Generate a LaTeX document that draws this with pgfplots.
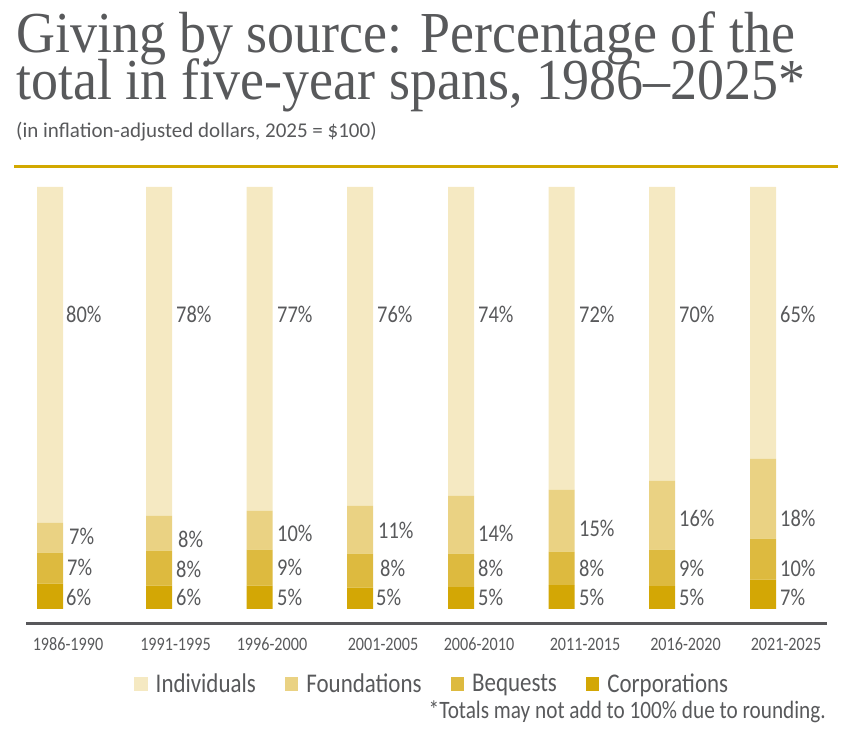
\documentclass[border=0pt]{standalone}
\usepackage{fontspec}
\usepackage{pgfplots}
\pgfplotsset{compat=1.18}
\setmainfont{Carlito}
\newfontfamily\cfont[FakeStretch=0.85]{Carlito}
\newfontfamily\pfont{Carlito}
\newfontfamily\titlefont[FakeStretch=0.93]{Liberation Serif}
\definecolor{txt}{HTML}{58595B}
\definecolor{rule}{HTML}{D2A800}
\definecolor{axisgray}{HTML}{58585B}
\definecolor{cind}{HTML}{F5E9C2}
\definecolor{cfound}{HTML}{EAD283}
\definecolor{cbeq}{HTML}{DDBA3F}
\definecolor{ccorp}{HTML}{D3A705}
\begin{document}
\begin{tikzpicture}[x=1pt,y=1pt]
\path (0,0) rectangle (852,735);
\node[anchor=base west, inner sep=0pt, text=txt, font=\titlefont\fontsize{58}{58}\selectfont] at (16,682) {Giving by source: Percentage of the};
\node[anchor=base west, inner sep=0pt, text=txt, font=\titlefont\fontsize{58}{58}\selectfont] at (16,635) {total in five-year spans, 1986–2025*};
\node[anchor=base west, inner sep=0pt, text=txt, font=\pfont\fontsize{21}{21}\selectfont] at (16,597) {(in inflation-adjusted dollars, 2025 = \$100)};
\draw[rule, line width=3pt] (14,568) -- (838,568);
\begin{axis}[
  at={(0pt,111pt)}, anchor=south west,
  width=852pt, height=437pt, scale only axis,
  xmin=0, xmax=852, ymin=-3.555, ymax=100,
  ybar stacked, bar width=26pt,
  clip=false,
  axis line style={draw=none},
  ytick=\empty,
  xtick={68,175.5,272,383,479,585,685.5,786},
  xticklabels={1986-1990,1991-1995,1996-2000,2001-2005,2006-2010,2011-2015,2016-2020,2021-2025},
  major tick length=0pt,
  xticklabel style={font=\cfont\fontsize{19}{19}\selectfont, text=txt, anchor=base, yshift=-26.7pt},
  reverse legend,
  legend columns=4,
  legend image code/.code={\fill[#1] (0pt,-7pt) rectangle (13.5pt,6.5pt);},
  legend style={draw=none, fill=none, at={(0.1538,-0.1373)}, anchor=west,
    font=\cfont\fontsize{27}{27}\selectfont, text=txt,
    /tikz/every odd column/.append style={column sep=6pt},
    /tikz/every even column/.append style={column sep=27pt}},
]
\addplot[fill=ccorp, draw=none] coordinates {(50,6.04) (159,5.56) (259.5,5.56) (360,5.09) (461,5.16) (561.5,5.63) (662,5.40) (763,6.98)};
\addplot[fill=cbeq, draw=none] coordinates {(50,7.34) (159,8.28) (259.5,8.52) (360,8.05) (461,7.98) (561.5,7.98) (662,8.69) (763,9.70)};
\addplot[fill=cfound, draw=none] coordinates {(50,7.10) (159,8.28) (259.5,9.23) (360,11.36) (461,13.73) (561.5,14.67) (662,16.33) (763,18.93)};
\addplot[fill=cind, draw=none] coordinates {(50,79.52) (159,77.88) (259.5,76.69) (360,75.50) (461,73.13) (561.5,71.72) (662,69.58) (763,64.39)};
\legend{Corporations,Bequests,Foundations,Individuals}
\draw[axisgray, line width=3pt] (axis cs:26,-3.555) -- (axis cs:827,-3.555);
\tikzset{lab/.style={anchor=base west, inner sep=0pt, text=txt, font=\cfont\fontsize{24}{24}\selectfont}}
% Individuals
\node[lab] at (axis cs:66,67.9) {80\%};
\node[lab] at (axis cs:176,67.9) {78\%};
\node[lab] at (axis cs:277,67.9) {77\%};
\node[lab] at (axis cs:377,67.9) {76\%};
\node[lab] at (axis cs:478,67.9) {74\%};
\node[lab] at (axis cs:579,67.9) {72\%};
\node[lab] at (axis cs:679,67.9) {70\%};
\node[lab] at (axis cs:780,67.9) {65\%};
% Foundations
\node[lab] at (axis cs:69,15.27) {7\%};
\node[lab] at (axis cs:178,14.56) {8\%};
\node[lab] at (axis cs:277,15.98) {10\%};
\node[lab] at (axis cs:378,16.69) {11\%};
\node[lab] at (axis cs:478,16.05) {14\%};
\node[lab] at (axis cs:579,17.23) {15\%};
\node[lab] at (axis cs:679,19.60) {16\%};
\node[lab] at (axis cs:780,19.60) {18\%};
% Bequests
\node[lab] at (axis cs:67,7.93) {7\%};
\node[lab] at (axis cs:176,7.53) {8\%};
\node[lab] at (axis cs:277,7.93) {9\%};
\node[lab] at (axis cs:380,7.76) {8\%};
\node[lab] at (axis cs:478,7.69) {8\%};
\node[lab] at (axis cs:579,7.69) {8\%};
\node[lab] at (axis cs:679,7.69) {9\%};
\node[lab] at (axis cs:780,7.69) {10\%};
% Corporations
\node[lab] at (axis cs:66,0.71) {6\%};
\node[lab] at (axis cs:176,0.71) {6\%};
\node[lab] at (axis cs:277,0.71) {5\%};
\node[lab] at (axis cs:376,0.71) {5\%};
\node[lab] at (axis cs:478,0.71) {5\%};
\node[lab] at (axis cs:579,0.71) {5\%};
\node[lab] at (axis cs:679,0.71) {5\%};
\node[lab] at (axis cs:780,0.71) {7\%};
\end{axis}
\node[anchor=base east, inner sep=0pt, text=txt, font=\cfont\fontsize{25}{25}\selectfont] at (826,16) {*Totals may not add to 100\% due to rounding.};
\end{tikzpicture}
\end{document}
